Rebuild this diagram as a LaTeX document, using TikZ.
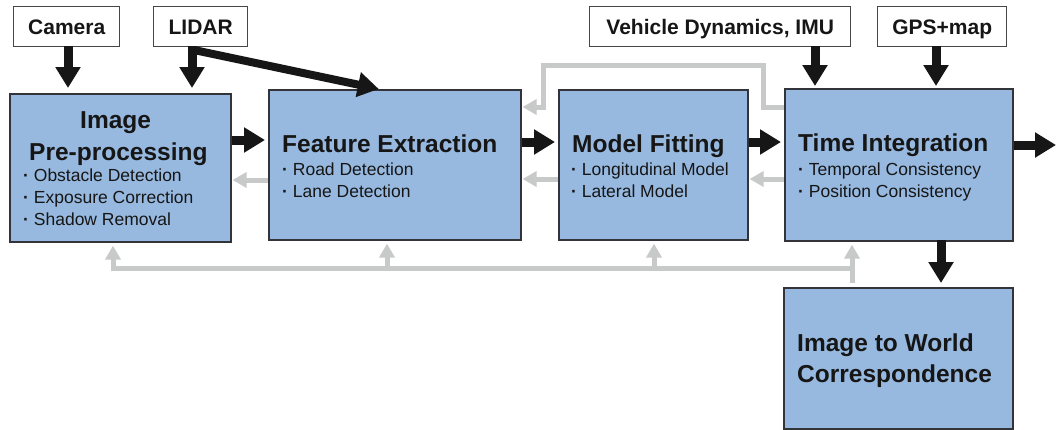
\documentclass[tikz,border=0pt]{standalone}
\usepackage{fontspec}
\setmainfont{Liberation Sans}
\usetikzlibrary{arrows.meta}
\definecolor{boxblue}{RGB}{151,185,224}
\definecolor{boxedge}{RGB}{50,52,58}
\definecolor{inedge}{RGB}{70,70,70}
\definecolor{fbgray}{RGB}{200,201,201}
\definecolor{inkblack}{RGB}{22,22,22}
\newcommand{\bdot}{\textbf{·}}
\begin{document}
\begin{tikzpicture}[x=1pt,y=-1pt,
  stage/.style={draw=boxedge, line width=1.6pt, fill=boxblue, anchor=north west, inner sep=0pt},
  inbox/.style={draw=inedge, line width=1.4pt, fill=white, anchor=north west, inner sep=0pt},
  ttl/.style={font=\fontsize{24.5}{30}\selectfont\bfseries, text=inkblack, anchor=base west, inner sep=0pt},
  itm/.style={font=\fontsize{17.5}{22}\selectfont, text=inkblack, anchor=base west, inner sep=0pt},
  inlabel/.style={font=\fontsize{21}{25}\selectfont\bfseries, text=inkblack, anchor=base, inner sep=0pt},
  bigarrow/.style={draw=inkblack, line width=9pt, -{Triangle[width=24pt,length=21pt]}},
  fb/.style={draw=fbgray, line width=5pt, -{Triangle[width=15pt,length=14pt]}},
]
\useasboundingbox[fill=white] (0,0) rectangle (1057,429);

% input boxes
\node[inbox, minimum width=106pt, minimum height=40pt] (camera) at (13,6) {};
\node[inbox, minimum width=94pt, minimum height=40pt] (lidar) at (153,6) {};
\node[inbox, minimum width=261pt, minimum height=40pt] (vehicle) at (589,6) {};
\node[inbox, minimum width=129pt, minimum height=40pt] (gps) at (877,6) {};
\node[inlabel] (cameraT) at ([yshift=-8pt]camera.center) {Camera};
\node[inlabel] (lidarT) at ([yshift=-8pt]lidar.center) {LIDAR};
\node[inlabel] (vehicleT) at ([yshift=-8pt]vehicle.center) {Vehicle Dynamics, IMU};
\node[inlabel] (gpsT) at ([yshift=-8pt]gps.center) {GPS+map};

% stage boxes
\node[stage, minimum width=221pt, minimum height=148pt] (imgpre) at (9,93) {};
\node[stage, minimum width=252pt, minimum height=150pt] (feature) at (268,89) {};
\node[stage, minimum width=189pt, minimum height=150pt] (model) at (558,89) {};
\node[stage, minimum width=228pt, minimum height=152pt] (timeint) at (784,88) {};
\node[stage, minimum width=229pt, minimum height=141pt] (world) at (783,287) {};

% stage texts
\node[ttl] (imgT1) at (80,128) {Image};
\node[ttl] (imgT2) at (29,160) {Pre-processing};
\node[itm] (imgI1) at (23,181) {\bdot{} Obstacle Detection};
\node[itm] (imgI2) at (23,203) {\bdot{} Exposure Correction};
\node[itm] (imgI3) at (23,225) {\bdot{} Shadow Removal};

\node[ttl] (feaT) at (282,152) {Feature Extraction};
\node[itm] (feaI1) at (282,175) {\bdot{} Road Detection};
\node[itm] (feaI2) at (282,197) {\bdot{} Lane Detection};

\node[ttl] (modT) at (572,152) {Model Fitting};
\node[itm] (modI1) at (571,175) {\bdot{} Longitudinal Model};
\node[itm] (modI2) at (571,197) {\bdot{} Lateral Model};

\node[ttl] (timT) at (798,151) {Time Integration};
\node[itm] (timI1) at (798,175) {\bdot{} Temporal Consistency};
\node[itm] (timI2) at (798,197) {\bdot{} Position Consistency};

\node[ttl] (worT1) at (797,351) {Image to World};
\node[ttl] (worT2) at (797,382) {Correspondence};

% connector coordinates
\coordinate (camout) at (68,46);
\coordinate (lidout) at (192,46);
\coordinate (lidsplit) at (194,50);
\coordinate (vehout) at (815,46);
\coordinate (gpsout) at (936,46);
\coordinate (timout) at (941,240);
\coordinate (out) at (1056,145);
\coordinate (fbtopR) at (763,65);
\coordinate (fbtopL) at (543,107);
\coordinate (busR) at (852,268);
\coordinate (busL) at (113,268);
\coordinate (tapF) at (387,268);
\coordinate (tapM) at (654,268);

% gray feedback
\draw[fb, shorten >=1pt] (feature.west |- 0,180) -- (imgpre.east |- 0,180);
\draw[fb, shorten >=1pt] (model.west |- 0,179) -- (feature.east |- 0,179);
\draw[fb, shorten >=1pt] (timeint.west |- 0,179) -- (model.east |- 0,179);
\draw[fb, shorten >=1pt] (timeint.west |- 0,107) -| (fbtopR) -| (fbtopL) -- (feature.east |- fbtopL);
\draw[fb, shorten <=4pt, shorten >=3pt] (world.north -| busR) -- (timeint.south -| busR);
\draw[fb, shorten >=3pt] (busR) -| (busL |- imgpre.south);
\draw[fb, shorten >=3pt] (tapF) -- (tapF |- feature.south);
\draw[fb, shorten >=3pt] (tapM) -- (tapM |- model.south);

% black arrows
\draw[bigarrow, shorten >=5pt] (camout) -- (camout |- imgpre.north);
\draw[bigarrow, shorten >=5pt] (lidout) -- (lidout |- imgpre.north);
\draw[bigarrow, line width=8pt] (lidsplit) -- ([xshift=-16pt]feature.north);
\draw[bigarrow, shorten >=2pt] (vehout) -- (vehout |- timeint.north);
\draw[bigarrow, shorten >=2pt] (gpsout) -- (gpsout |- timeint.north);
\draw[bigarrow, shorten >=3pt] (imgpre.east |- 0,140) -- (feature.west |- 0,140);
\draw[bigarrow, shorten >=3pt] (feature.east |- 0,142) -- (model.west |- 0,142);
\draw[bigarrow, shorten >=3pt] (model.east |- 0,142) -- (timeint.west |- 0,142);
\draw[bigarrow] (timeint.east |- out) -- (out);
\draw[bigarrow, shorten >=4pt] (timout) -- (timout |- world.north);
\end{tikzpicture}
\end{document}
